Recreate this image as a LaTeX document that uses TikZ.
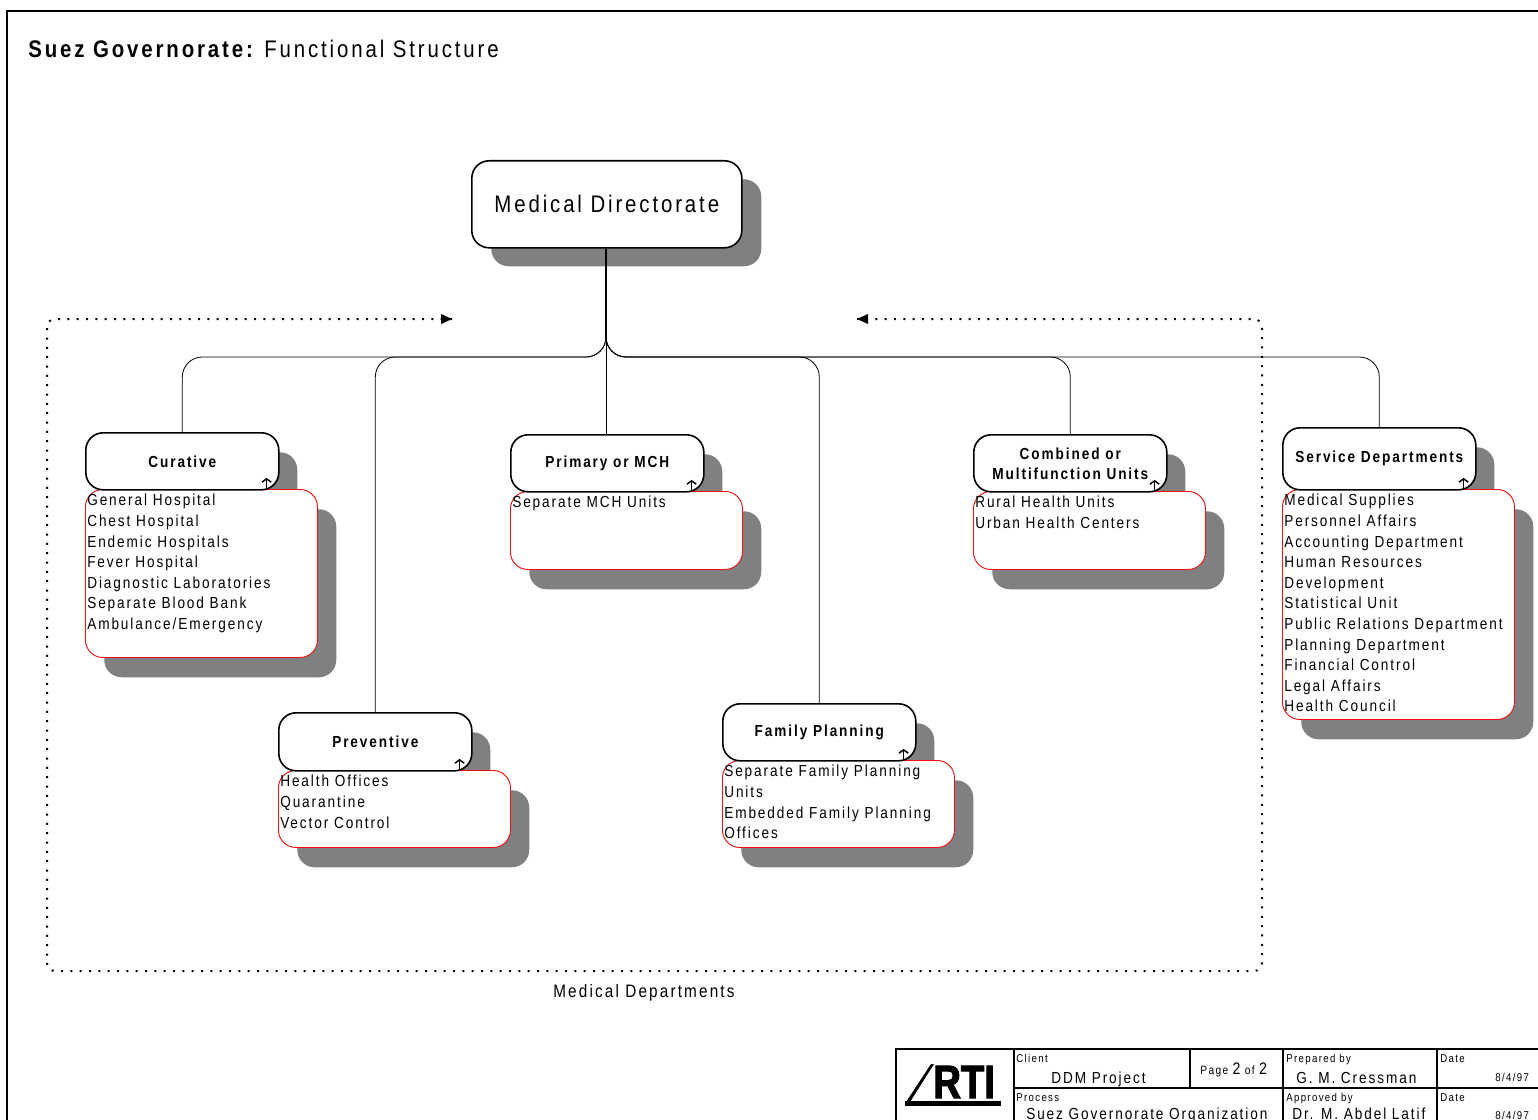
\documentclass[tikz,border=0pt]{standalone}
\usepackage{fontspec}
\setmainfont[LetterSpace=12,FakeStretch=0.85]{Liberation Sans}
\newfontface\logofont[FakeBold=2.5,FakeStretch=0.82]{Liberation Sans Bold}
\usetikzlibrary{arrows.meta}
\definecolor{shade}{HTML}{808080}
\definecolor{redline}{HTML}{F01010}
\tikzset{
  x=0.75pt,y=-0.75pt,
  hdrbox/.style={draw=black,line width=1.2pt,fill=white,rounded corners=13pt,anchor=north west,inner sep=0pt,align=center,font=\fontsize{12pt}{15pt}\selectfont\bfseries,minimum width=144.75pt},
  listbox/.style={draw=redline,line width=0.7pt,fill=white,rounded corners=13pt,anchor=north west,inner sep=0pt,minimum width=174pt},
  shadebox/.style={fill=shade,rounded corners=13pt,anchor=north west,inner sep=0pt},
  listtext/.style={anchor=north west,inner sep=0pt,align=left,font=\fontsize{12pt}{15.45pt}\selectfont},
  conn/.style={draw=black,line width=0.6pt,rounded corners=15pt},
  dots/.style={draw=black,line width=1.5pt,dash pattern=on 1.5pt off 5.5pt,rounded corners=6pt},
  lab/.style={inner sep=0pt,anchor=base west},
  small/.style={lab,font=\fontsize{8.5pt}{10pt}\selectfont},
  big/.style={lab,font=\fontsize{12pt}{14pt}\selectfont},
  rule/.style={draw=black,line width=1.2pt}
}
\newcommand{\dept}[7]{%
  \node[shadebox,minimum width=144.75pt,minimum height=#4*0.75pt] (#1hs) at ({#2+19},{#3+20}) {};
  \node[shadebox,minimum width=174pt,minimum height=#5*0.75pt] (#1ls) at ({#2+19},{#3+#4+20}) {};
  \node[listbox,minimum height=#5*0.75pt] (#1l) at (#2,{#3+#4}) {};
  \node[hdrbox,minimum height=#4*0.75pt] (#1) at (#2,#3) {#6};
  \node[listtext] (#1t) at ({#2+2},{#3+#4+5}) {#7};
  \draw[line width=1.1pt,-{Straight Barb[length=2.5pt,width=7pt]}] ([xshift=-9.75pt,yshift=2pt]#1.south east) -- ++(0,-10);
}
\begin{document}
\begin{tikzpicture}
\useasboundingbox (0,0) rectangle (1538,1120);
\fill[white] (0,0) rectangle (1538,1120);
\begin{scope}
\clip (0,0) rectangle (1538,1120);
% outer frame
\draw[line width=1.5pt] (7,1125) -- (7,11) -- (1545,11);
% title
\node[lab,font=\fontsize{18pt}{20pt}\selectfont\bfseries] (title) at (28,58) {Suez Governorate:};
\node[lab,font=\fontsize{18pt}{20pt}\selectfont] (subtitle) at (264,58) {Functional Structure};
% top box
\node[shadebox,minimum width=202.5pt,minimum height=65.25pt] (meds) at (491,179) {};
\node[hdrbox,minimum height=65.25pt,minimum width=202.5pt,font=\fontsize{18pt}{22pt}\selectfont] (med) at (471,160) {Medical Directorate};
% dotted frame
\coordinate (dl) at (452,319);
\coordinate (dr) at (857,319);
\draw[dots] (dl) -- (47,319) -- (47,971) -- (1262,971) -- (1262,319) -- (dr);
\fill (dl) ++(-11,-5) -- ++(0,10) -- ++(11,-5) -- cycle;
\fill (dr) ++(11,-5) -- ++(0,10) -- ++(-11,-5) -- cycle;
% departments
\dept{cur}{85}{432}{57}{168}{Curative}{General Hospital\\Chest Hospital\\Endemic Hospitals\\Fever Hospital\\Diagnostic Laboratories\\Separate Blood Bank\\Ambulance/Emergency}
\dept{pri}{510}{434}{57}{78}{Primary or MCH}{Separate MCH Units}
\dept{com}{973}{434}{57}{78}{Combined or\\Multifunction Units}{Rural Health Units\\Urban Health Centers}
\dept{ser}{1282}{427}{62}{230}{Service Departments}{Medical Supplies\\Personnel Affairs\\Accounting Department\\Human Resources\\Development\\Statistical Unit\\Public Relations Department\\Planning Department\\Financial Control\\Legal Affairs\\Health Council}
\dept{pre}{278}{712}{58}{77}{Preventive}{Health Offices\\Quarantine\\Vector Control}
\dept{fam}{722}{703}{57}{87}{Family Planning}{Separate Family Planning\\Units\\Embedded Family Planning\\Offices}
% connectors
\coordinate (hub) at (606,339);
\coordinate (bus) at (606,357);
\draw[line width=1.5pt] (med.south -| hub) -- (hub);
\draw[conn] (hub) |- (cur.north |- bus) -- (cur.north);
\draw[conn] (hub) |- (pre.north |- bus) -- (pre.north);
\draw[conn] (hub) |- (fam.north |- bus) -- (fam.north);
\draw[conn] (hub) |- (com.north |- bus) -- (com.north);
\draw[conn] (hub) |- (ser.north |- bus) -- (ser.north);
\draw[conn] (hub) -- (hub |- pri.north);
\node[lab,font=\fontsize{13.5pt}{16pt}\selectfont] (deps) at (553,997) {Medical Departments};
% title block
\draw[rule,line width=1.4pt] (896,1125) -- (896,1049) -- (1545,1049);
\draw[rule] (1014,1049) -- (1014,1125);
\draw[rule] (1190,1049) -- (1190,1088);
\draw[rule] (1283,1049) -- (1283,1125);
\draw[rule] (1437,1049) -- (1437,1125);
\draw[rule] (1014,1088) -- (1545,1088);
\node[small] (c1) at (1016,1062) {Client};
\node[big] (c2) at (1051,1083) {DDM Project};
\node[lab,font=\fontsize{9pt}{10pt}\selectfont] (pg) at (1200,1074) {Page {\fontsize{12.5pt}{12pt}\selectfont 2} of {\fontsize{12.5pt}{12pt}\selectfont 2}};
\node[small] (p1) at (1286,1062) {Prepared by};
\node[big] (p2) at (1296,1083) {G. M. Cressman};
\node[small] (d1) at (1440,1062) {Date};
\node[small] (d2) at (1495,1081) {8/4/97};
\node[small] (r1) at (1016,1101) {Process};
\node[big] (r2) at (1026,1119) {Suez Governorate Organization};
\node[small] (a1) at (1286,1101) {Approved by};
\node[big] (a2) at (1292,1119) {Dr. M. Abdel Latif};
\node[small] (e1) at (1440,1101) {Date};
\node[small] (e2) at (1495,1119) {8/4/97};
% logo
\node[lab,font=\fontsize{35pt}{35pt}\logofont] (rti) at (933,1098) {RTI};
\fill (905,1101) rectangle (1001,1106);
\fill (906,1102) -- (931,1064) -- (934,1064) -- (910,1102) -- cycle;
\end{scope}
\end{tikzpicture}
\end{document}
